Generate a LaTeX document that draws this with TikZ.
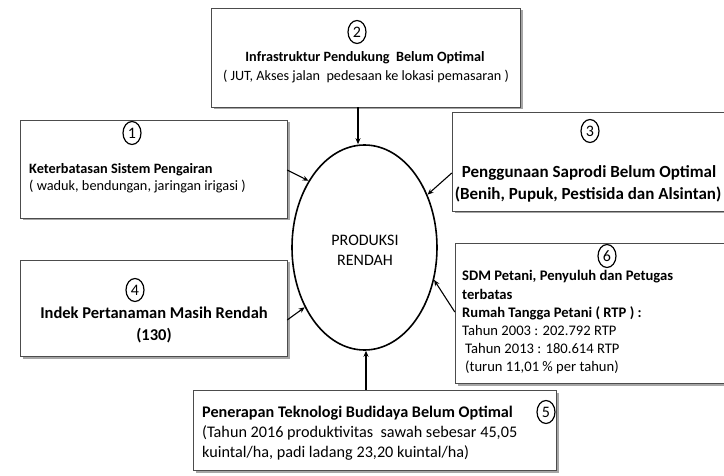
\documentclass[tikz,border=0pt]{standalone}
\usepackage{fontspec}
\setmainfont{Carlito}
\usetikzlibrary{arrows.meta,shadows,shapes.geometric}
\begin{document}
\begin{tikzpicture}[x=1pt,y=-1pt,
  box/.style={draw=black!70,line width=0.8pt,fill=white,
    drop shadow={shadow xshift=2.5pt,shadow yshift=-2.5pt,fill=black!35,opacity=1}},
  num/.style={draw,line width=1.2pt,ellipse,inner sep=0pt,minimum width=18pt,minimum height=23pt,font=\fontsize{16}{16}\selectfont},
  arr/.style={line width=1.1pt,-{Stealth[length=6pt,width=5pt]}},
  txt/.style={inner sep=0pt,anchor=base}
]
\useasboundingbox[fill=white] (0,0) rectangle (724,476);
% boxes
\draw[box] (211,8) rectangle (520,107);
\node (b2) at (365.5,57.5) [minimum width=309pt,minimum height=99pt,inner sep=0pt] {};
\draw[box] (20,120) rectangle (287,218);
\node (b1) at (153.5,169) [minimum width=267pt,minimum height=98pt,inner sep=0pt] {};
\draw[box] (452,112) rectangle (724,211);
\node (b3) at (588,161.5) [minimum width=272pt,minimum height=99pt,inner sep=0pt] {};
\draw[box] (20,260) rectangle (287,356);
\node (b4) at (153.5,308) [minimum width=267pt,minimum height=96pt,inner sep=0pt] {};
\draw[box] (455,243) rectangle (724,383);
\node (b6) at (589.5,313) [minimum width=269pt,minimum height=140pt,inner sep=0pt] {};
\draw[box] (193,390) rectangle (556,470);
\node (b5) at (374.5,430) [minimum width=363pt,minimum height=80pt,inner sep=0pt] {};
% ellipse
\node (e) at (364.5,247.5) [draw,line width=1.6pt,ellipse,minimum width=145pt,minimum height=205pt,inner sep=0pt] {};
\node[align=center,font=\fontsize{16}{20}\selectfont] (et) at (365,250) {PRODUKSI\\RENDAH};
% numbers
\node[num] (n2) at (357,32) {2};
\node[num] (n1) at (132,133) {1};
\node[num] (n3) at (590,131) {3};
\node[num] (n4) at (135,290) {4};
\node[num] (n6) at (607,256) {6};
\node[num] (n5) at (546,412) {5};
% texts
\node[txt,font=\bfseries\fontsize{14.2}{16}\selectfont] (t2a) at (365,62) {Infrastruktur Pendukung\ \ Belum Optimal};
\node[txt,font=\fontsize{14.2}{16}\selectfont] (t2b) at (366,81) {( JUT, Akses jalan\ \ pedesaan ke lokasi pemasaran )};
\node[txt,anchor=base west,font=\bfseries\fontsize{14.3}{16}\selectfont] (t1a) at (29,174) {Keterbatasan Sistem Pengairan};
\node[txt,anchor=base west,font=\fontsize{14.3}{16}\selectfont] (t1b) at (29,191) {( waduk, bendungan, jaringan irigasi )};
\node[txt,font=\bfseries\fontsize{17}{18}\selectfont] (t3a) at (589,178) {Penggunaan Saprodi Belum Optimal};
\node[txt,font=\bfseries\fontsize{17}{18}\selectfont] (t3b) at (588,200) {(Benih, Pupuk, Pestisida dan Alsintan)};
\node[txt,font=\bfseries\fontsize{16.5}{18}\selectfont] (t4a) at (154,319) {Indek Pertanaman Masih Rendah};
\node[txt,font=\bfseries\fontsize{16.5}{18}\selectfont] (t4b) at (154,341) {(130)};
\begin{scope}[every node/.style={txt,anchor=base west,font=\fontsize{14.6}{16}\selectfont}]
\node[font=\bfseries\fontsize{14.6}{16}\selectfont] (t6a) at (462,281) {SDM Petani, Penyuluh dan Petugas};
\node[font=\bfseries\fontsize{14.6}{16}\selectfont] (t6b) at (462,299) {terbatas};
\node[font=\bfseries\fontsize{14.6}{16}\selectfont] (t6c) at (462,317) {Rumah Tangga Petani ( RTP ) :};
\node (t6d) at (462,335) {Tahun 2003 : 202.792 RTP};
\node (t6e) at (465,353) {Tahun 2013 : 180.614 RTP};
\node (t6f) at (465,371) {(turun 11,01 \% per tahun)};
\end{scope}
\begin{scope}[every node/.style={txt,anchor=base west,font=\fontsize{16.2}{18}\selectfont}]
\node[font=\bfseries\fontsize{16.2}{18}\selectfont] (t5a) at (202,417) {Penerapan Teknologi Budidaya Belum Optimal};
\node (t5b) at (202,437) {(Tahun 2016 produktivitas\ \ sawah sebesar 45,05};
\node (t5c) at (202,457) {kuintal/ha, padi ladang 23,20 kuintal/ha)};
\end{scope}
% arrows
\draw[arr] (b2.south -| 358,0) -- (e.north -| 358,0);
\draw[arr] (b1.east |- 0,170) -- (e.130);
\draw[arr] (b3.west |- 0,173) -- (e.40);
\draw[arr] (b4.east |- 0,320) -- (e.225);
\draw[arr] (b6.west |- 0,312) -- (e.-25);
\draw[arr] (b5.north -| 366,0) -- (e.south -| 366,0);
\end{tikzpicture}
\end{document}
